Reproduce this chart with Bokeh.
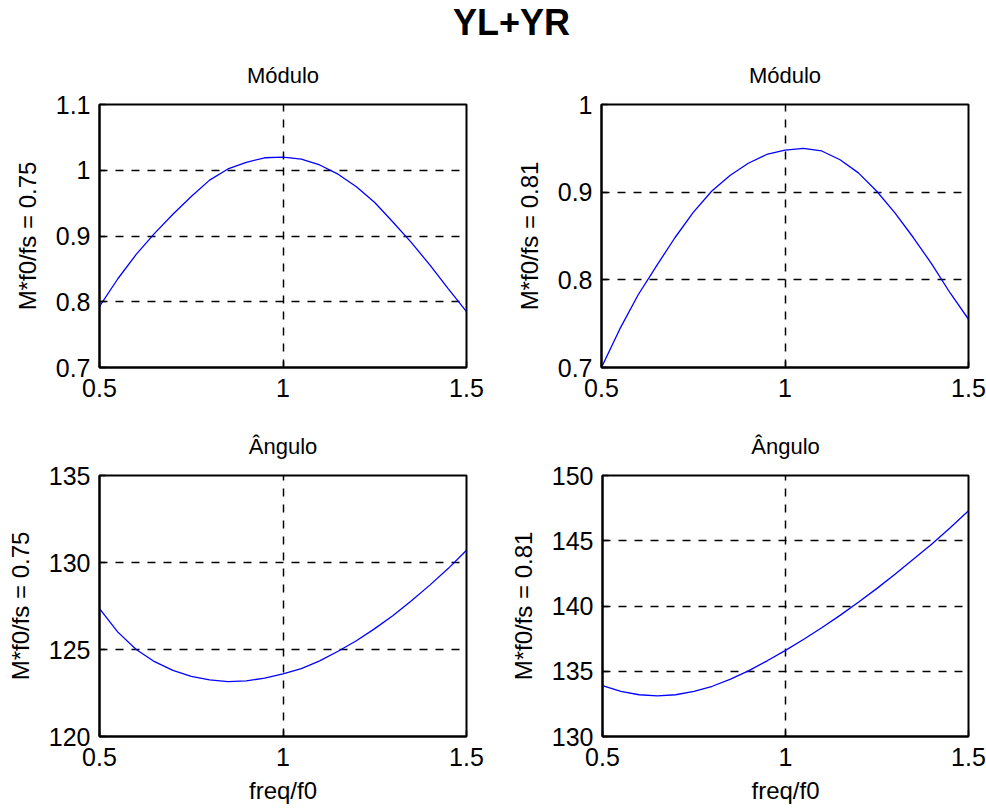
from bokeh.plotting import figure
from bokeh.models import Range1d, FixedTicker, CustomJSTickFormatter, Label, Plot
from bokeh.layouts import column, row
from bokeh.embed import file_html
from bokeh.resources import INLINE

# ---- data ----
freq = [0.50, 0.55, 0.60, 0.65, 0.70, 0.75, 0.80, 0.85, 0.90, 0.95, 1.00,
        1.05, 1.10, 1.15, 1.20, 1.25, 1.30, 1.35, 1.40, 1.45, 1.50]

mod_075 = [0.793, 0.835, 0.872, 0.904, 0.933, 0.960, 0.985, 1.002, 1.012, 1.019, 1.020,
           1.017, 1.008, 0.994, 0.975, 0.951, 0.921, 0.890, 0.856, 0.820, 0.785]
mod_081 = [0.700, 0.744, 0.783, 0.816, 0.848, 0.877, 0.901, 0.919, 0.933, 0.943, 0.948,
           0.950, 0.947, 0.937, 0.922, 0.901, 0.876, 0.848, 0.818, 0.785, 0.755]
ang_075 = [127.35, 126.00, 125.00, 124.30, 123.80, 123.45, 123.25, 123.15, 123.20, 123.35, 123.60,
           123.90, 124.35, 124.90, 125.50, 126.20, 126.95, 127.80, 128.70, 129.65, 130.70]
ang_081 = [133.90, 133.45, 133.20, 133.12, 133.20, 133.45, 133.85, 134.40, 135.05, 135.80, 136.60,
           137.45, 138.35, 139.30, 140.30, 141.35, 142.45, 143.60, 144.75, 146.00, 147.30]

x_ticks = [0.5, 1, 1.5]
y_ticks_mod_075 = [0.7, 0.8, 0.9, 1, 1.1]
y_ticks_mod_081 = [0.7, 0.8, 0.9, 1]
y_ticks_ang_075 = [120, 125, 130, 135]
y_ticks_ang_081 = [130, 135, 140, 145, 150]

suptitle = "YL+YR"
title_mod = "Módulo"
title_ang = "Ângulo"
ylab_075 = "M*f0/fs = 0.75"
ylab_081 = "M*f0/fs = 0.81"
xlab = "freq/f0"

FONT = "Liberation Sans"
fmt_code = "return String(tick);"


def make(ydata, yticks, title, ylabel, xlabel, width, height, bl, br, bt, bb):
    p = figure(width=width, height=height, output_backend="svg", toolbar_location=None,
               x_range=Range1d(x_ticks[0], x_ticks[-1]),
               y_range=Range1d(yticks[0], yticks[-1]),
               min_border_left=bl, min_border_right=br, min_border_top=bt, min_border_bottom=bb,
               background_fill_color="white", border_fill_color="white")
    p.line(freq, ydata, line_color="#0000ff", line_width=1.3)

    p.title.text = title
    p.title.align = "center"
    p.title.text_font = FONT
    p.title.text_font_size = "22px"
    p.title.text_font_style = "normal"
    p.title.text_color = "black"
    p.title.standoff = 33

    p.outline_line_color = "black"
    p.outline_line_width = 2
    p.outline_line_alpha = 1.0

    for ax in (p.xaxis[0], p.yaxis[0]):
        ax.axis_line_color = "black"
        ax.axis_line_width = 2
        ax.major_tick_in = 6
        ax.major_tick_out = 0
        ax.major_tick_line_color = "black"
        ax.major_tick_line_width = 1.5
        ax.minor_tick_line_color = None
        ax.major_label_text_font = FONT
        ax.major_label_text_font_size = "25px"
        ax.major_label_text_color = "black"
        ax.axis_label_text_font = FONT
        ax.axis_label_text_font_size = "24px"
        ax.axis_label_text_font_style = "normal"
        ax.axis_label_text_color = "black"
        ax.formatter = CustomJSTickFormatter(code=fmt_code)

    p.xaxis.ticker = FixedTicker(ticks=x_ticks)
    p.yaxis.ticker = FixedTicker(ticks=yticks)
    p.xaxis.major_label_standoff = 11
    p.yaxis.major_label_standoff = 9
    p.yaxis.axis_label = ylabel
    p.yaxis.axis_label_standoff = 12
    if xlabel:
        p.xaxis.axis_label = xlabel
        p.xaxis.axis_label_standoff = 8

    p.xgrid.ticker = FixedTicker(ticks=x_ticks[1:-1])
    p.ygrid.ticker = FixedTicker(ticks=yticks[1:-1])
    for g in (p.xgrid[0], p.ygrid[0]):
        g.grid_line_color = "black"
        g.grid_line_width = 1.5
        g.grid_line_dash = "8 8"
        g.grid_line_alpha = 1.0
    return p


# header with the overall title
W_TOTAL = 986
H_HEAD = 44
head = Plot(width=W_TOTAL, height=H_HEAD, output_backend="svg", toolbar_location=None,
            x_range=Range1d(0, W_TOTAL), y_range=Range1d(0, H_HEAD),
            min_border=0, outline_line_color=None, title=None)
head.add_layout(Label(x=511, y=H_HEAD - 22, text=suptitle, text_align="center",
                      text_baseline="middle", text_font=FONT, text_font_size="36px",
                      text_font_style="bold", text_color="black"))

f1 = make(mod_075, y_ticks_mod_075, title_mod, ylab_075, None, 506, 371, 99, 40, 60, 48)
f2 = make(mod_081, y_ticks_mod_081, title_mod, ylab_081, None, 480, 371, 95, 18, 60, 48)
f3 = make(ang_075, y_ticks_ang_075, title_ang, ylab_075, xlab, 506, 394, 99, 40, 57, 73)
f4 = make(ang_081, y_ticks_ang_081, title_ang, ylab_081, xlab, 480, 394, 95, 18, 57, 73)

layout = column(head, row(f1, f2), row(f3, f4))

open("out.html", "w").write(file_html(layout, INLINE))
